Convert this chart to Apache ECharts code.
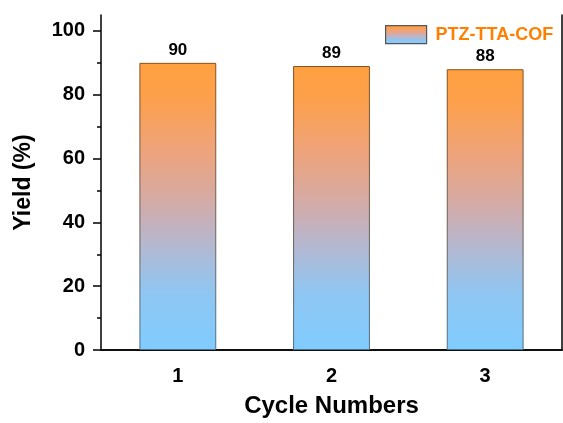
<!DOCTYPE html>
<html>
<head>
<meta charset="utf-8">
<script src="https://cdn.jsdelivr.net/npm/echarts@6/dist/echarts.min.js"></script>
<style>
  html, body { margin: 0; padding: 0; background: #fff; }
  #chart { width: 563px; height: 423px; }
</style>
</head>
<body>
<div id="chart"></div>
<script>
// Photocatalytic recycling test: yield per cycle
const categories = ['1', '2', '3'];
const yields = [90, 89, 88];
const seriesName = 'PTZ-TTA-COF';
const yMajorTicks = [0, 20, 40, 60, 80, 100];
const yMinorTicks = [10, 30, 50, 70, 90];

const FONT = 'Liberation Sans, Arial, sans-serif';

// orange-to-sky-blue fill, top to bottom
function makeFill() {
  return new echarts.graphic.LinearGradient(0, 0, 0, 1, [
    { offset: 0, color: '#FFA040' },
    { offset: 0.12, color: '#FCA04C' },
    { offset: 0.3, color: '#EEA37A' },
    { offset: 0.45, color: '#D9A99E' },
    { offset: 0.55, color: '#C6B0BA' },
    { offset: 0.66, color: '#AEBAD6' },
    { offset: 0.8, color: '#8FC6F2' },
    { offset: 1, color: '#80CCFF' }
  ]);
}
const barEdge = new echarts.graphic.LinearGradient(0, 0, 0, 1, [
  { offset: 0, color: '#8A4E1A' },
  { offset: 1, color: '#4F6F86' }
]);

const chart = echarts.init(document.getElementById('chart'), null, { renderer: 'canvas' });

chart.setOption({
  animation: false,
  backgroundColor: '#fff',
  grid: { left: 101, right: 1, top: 15, bottom: 69 },
  legend: {
    left: 380,
    top: 20,
    itemWidth: 41,
    itemHeight: 18,
    icon: 'rect',
    itemGap: 0,
    itemStyle: { color: makeFill(), borderColor: '#555', borderWidth: 1.2 },
    textStyle: {
      color: '#FF7F00',
      fontFamily: FONT,
      fontWeight: 'bold',
      fontSize: 18,
      padding: [0, 0, 0, 4]
    },
    data: [seriesName]
  },
  xAxis: [
    {
      type: 'category',
      data: categories,
      position: 'bottom',
      axisLine: { lineStyle: { color: '#000', width: 1.5 } },
      axisTick: { alignWithLabel: true, length: 8, lineStyle: { color: '#000', width: 1.5 } },
      axisLabel: { color: '#000', fontFamily: FONT, fontWeight: 'bold', fontSize: 20, margin: 16 },
      name: 'Cycle Numbers',
      nameLocation: 'middle',
      nameGap: 44,
      nameTextStyle: { color: '#000', fontFamily: FONT, fontWeight: 'bold', fontSize: 24 }
    },
    {
      type: 'category',
      data: categories,
      position: 'bottom',
      axisLine: { show: false },
      axisTick: { length: 4, lineStyle: { color: '#000', width: 1.5 } },
      axisLabel: { show: false }
    },
    {
      type: 'category',
      data: categories,
      position: 'top',
      axisLine: { lineStyle: { color: '#000', width: 1.5 } },
      axisTick: { show: false },
      axisLabel: { show: false }
    }
  ],
  yAxis: [
    {
      type: 'value',
      min: 0,
      max: 105,
      position: 'left',
      splitLine: { show: false },
      axisLine: { show: true, lineStyle: { color: '#000', width: 1.5 } },
      axisTick: { show: true, length: 8, customValues: yMajorTicks, lineStyle: { color: '#000', width: 1.5 } },
      axisLabel: { customValues: yMajorTicks, color: '#000', fontFamily: FONT, fontWeight: 'bold', fontSize: 20, margin: 16 },
      name: 'Yield (%)',
      nameLocation: 'middle',
      nameGap: 66,
      nameTextStyle: { color: '#000', fontFamily: FONT, fontWeight: 'bold', fontSize: 23 }
    },
    {
      type: 'value',
      min: 0,
      max: 105,
      position: 'left',
      splitLine: { show: false },
      axisLine: { show: false },
      axisTick: { show: true, length: 4, customValues: yMinorTicks, lineStyle: { color: '#000', width: 1.5 } },
      axisLabel: { show: false }
    },
    {
      type: 'value',
      min: 0,
      max: 105,
      position: 'right',
      splitLine: { show: false },
      axisLine: { show: true, lineStyle: { color: '#000', width: 1.5 } },
      axisTick: { show: false },
      axisLabel: { show: false }
    }
  ],
  series: [
    {
      name: seriesName,
      type: 'bar',
      xAxisIndex: 0,
      yAxisIndex: 0,
      data: yields,
      barWidth: '50%',
      itemStyle: { color: makeFill(), borderColor: barEdge, borderWidth: 1 },
      label: {
        show: true,
        position: 'top',
        distance: 4,
        color: '#000',
        fontFamily: FONT,
        fontWeight: 'bold',
        fontSize: 17
      }
    }
  ]
});
</script>
</body>
</html>
